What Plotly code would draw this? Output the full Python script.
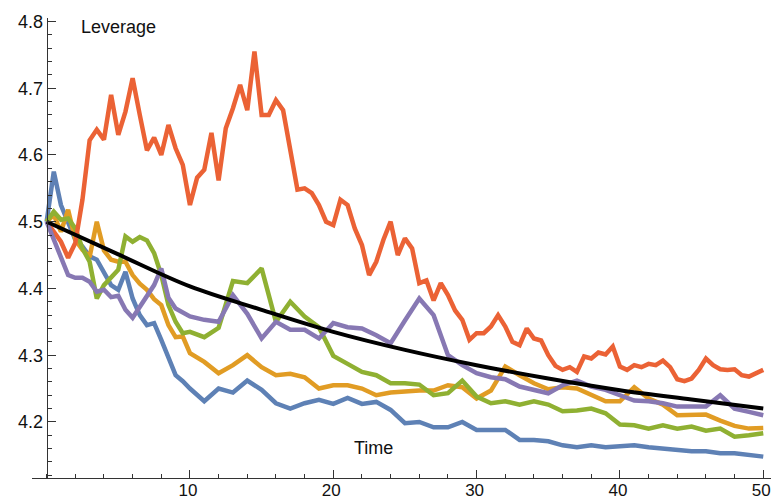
import plotly.graph_objects as go

# Time grids
TIME_FINE = [i * 0.5 for i in range(101)]
TIME_MAIN = [i * 0.5 for i in range(21)] + list(range(11, 51))

BLUE = [4.50, 4.575, 4.525, 4.50, 4.473, 4.463, 4.448, 4.443, 4.425, 4.405, 4.398,
        4.425, 4.385, 4.360, 4.345, 4.348, 4.323, 4.295, 4.270, 4.261, 4.250,
        4.231, 4.250, 4.244, 4.262, 4.248, 4.228, 4.220, 4.228, 4.233, 4.227,
        4.236, 4.227, 4.230, 4.218, 4.198, 4.200, 4.192, 4.192, 4.200, 4.188,
        4.188, 4.188, 4.173, 4.173, 4.171, 4.165, 4.162, 4.165, 4.162, 4.164,
        4.165, 4.162, 4.160, 4.157, 4.156, 4.156, 4.153, 4.153, 4.150, 4.148]

GOLD = [4.50, 4.51, 4.485, 4.518, 4.473, 4.458, 4.447, 4.50, 4.457, 4.443, 4.44,
        4.44, 4.42, 4.407, 4.398, 4.384, 4.375, 4.345, 4.327, 4.328, 4.303,
        4.290, 4.273, 4.285, 4.300, 4.282, 4.270, 4.272, 4.267, 4.250, 4.255,
        4.255, 4.250, 4.240, 4.244, 4.246, 4.247, 4.247, 4.255, 4.252, 4.235,
        4.247, 4.283, 4.270, 4.258, 4.249, 4.252, 4.250, 4.240, 4.231, 4.231,
        4.252, 4.235, 4.226, 4.210, 4.211, 4.211, 4.202, 4.194, 4.190, 4.191]

GREEN = [4.50, 4.515, 4.503, 4.505, 4.49, 4.46, 4.44, 4.385, 4.405, 4.417, 4.428,
         4.478, 4.47, 4.477, 4.472, 4.453, 4.42, 4.375, 4.35, 4.333, 4.335,
         4.327, 4.341, 4.411, 4.408, 4.430, 4.350, 4.380, 4.358, 4.342, 4.299,
         4.287, 4.275, 4.270, 4.258, 4.258, 4.256, 4.240, 4.243, 4.262, 4.238,
         4.228, 4.231, 4.226, 4.231, 4.226, 4.216, 4.217, 4.220, 4.213, 4.196,
         4.195, 4.190, 4.195, 4.190, 4.193, 4.187, 4.190, 4.178, 4.180, 4.183]

RED = [4.500, 4.486, 4.470, 4.446, 4.468, 4.533, 4.622, 4.638, 4.623, 4.690,
       4.630, 4.665, 4.715, 4.660, 4.607, 4.626, 4.600, 4.645, 4.610, 4.585,
       4.525, 4.566, 4.578, 4.633, 4.562, 4.640, 4.670, 4.705, 4.667, 4.755,
       4.660, 4.660, 4.682, 4.667, 4.610, 4.548, 4.550, 4.543, 4.525, 4.500,
       4.495, 4.533, 4.525, 4.490, 4.465, 4.420, 4.440, 4.473, 4.500, 4.450,
       4.475, 4.460, 4.408, 4.412, 4.382, 4.408, 4.390, 4.367, 4.353, 4.323,
       4.333, 4.333, 4.343, 4.360, 4.343, 4.320, 4.315, 4.340, 4.325, 4.322,
       4.300, 4.284, 4.278, 4.282, 4.275, 4.298, 4.295, 4.304, 4.301, 4.313,
       4.283, 4.278, 4.285, 4.282, 4.287, 4.285, 4.292, 4.282, 4.264, 4.261,
       4.265, 4.278, 4.295, 4.285, 4.279, 4.278, 4.279, 4.270, 4.268, 4.273,
       4.278]

PURPLE = [4.50, 4.473, 4.449, 4.42, 4.416, 4.416, 4.41, 4.395, 4.398, 4.387, 4.389,
          4.368, 4.356, 4.372, 4.39, 4.405, 4.43, 4.386, 4.37, 4.363, 4.358,
          4.353, 4.350, 4.390, 4.362, 4.325, 4.350, 4.338, 4.338, 4.325, 4.348,
          4.342, 4.340, 4.330, 4.318, 4.352, 4.385, 4.360, 4.300, 4.285, 4.273,
          4.267, 4.264, 4.253, 4.248, 4.243, 4.255, 4.262, 4.253, 4.248, 4.240,
          4.232, 4.231, 4.228, 4.223, 4.223, 4.223, 4.240, 4.220, 4.215, 4.210]

MEAN_T = [0, 5, 10, 15, 20, 25, 30, 35, 40, 45, 50]
MEAN_V = [4.500, 4.451, 4.403, 4.368, 4.335, 4.308, 4.285, 4.265, 4.2475, 4.2335, 4.220]

X_TICKS = [10, 20, 30, 40, 50]
Y_TICKS = [4.2, 4.3, 4.4, 4.5, 4.6, 4.7, 4.8]
Y_LABELS = ["4.2", "4.3", "4.4", "4.5", "4.6", "4.7", "4.8"]

FONT = "Liberation Sans, Arial, sans-serif"
AX = "#333333"

fig = go.Figure()
series = [
    (TIME_MAIN, BLUE, "#5E81B5"),
    (TIME_MAIN, GOLD, "#E19C24"),
    (TIME_MAIN, GREEN, "#8FB032"),
    (TIME_FINE, RED, "#EB6235"),
    (TIME_MAIN, PURPLE, "#8778B3"),
]
for t, v, c in series:
    fig.add_trace(go.Scatter(x=t, y=v, mode="lines", line=dict(color=c, width=4.5),
                             hoverinfo="skip"))
fig.add_trace(go.Scatter(x=MEAN_T, y=MEAN_V, mode="lines",
                         line=dict(color="black", width=4, shape="spline"),
                         hoverinfo="skip"))

xr = [-1.02, 50.54]
fig.update_layout(
    width=771, height=500,
    margin=dict(l=32, r=0, t=18, b=22, autoexpand=False),
    plot_bgcolor="white", paper_bgcolor="white",
    showlegend=False,
    font=dict(family=FONT, size=18, color="#111111"),
    xaxis=dict(range=xr, showgrid=False, zeroline=False, showline=True,
               automargin=False, ticklabeloverflow="allow",
               linecolor=AX, linewidth=1, ticks="inside", ticklen=8,
               tickcolor=AX, tickwidth=1, tickmode="array", tickvals=X_TICKS,
               ticktext=[str(v) for v in X_TICKS], ticklabelstandoff=-3,
               ticklabelshift=-2,
               minor=dict(ticks="inside", ticklen=4, tickmode="linear",
                          tick0=0, dtick=2, tickcolor=AX, showgrid=False),
               tickfont=dict(family=FONT, size=17, color="#111111")),
    yaxis=dict(range=[4.116, 4.8052], showgrid=False, zeroline=False,
               showline=True, linecolor=AX, linewidth=1, automargin=False,
               anchor="free", position=(0 - xr[0]) / (xr[1] - xr[0]),
               ticks="inside", ticklen=8, tickcolor=AX, tickwidth=1,
               tickmode="array", tickvals=Y_TICKS, ticktext=Y_LABELS,
               minor=dict(ticks="inside", ticklen=4, tickmode="linear",
                          tick0=4.0, dtick=0.02, tickcolor=AX, showgrid=False),
               tickfont=dict(family=FONT, size=18, color="#111111")),
    annotations=[
        dict(x=2.25, y=4.792, xref="x", yref="y", text="Leverage",
             showarrow=False, xanchor="left", yanchor="middle",
             font=dict(family=FONT, size=18, color="#111111")),
        dict(x=21.28, y=4.1613, xref="x", yref="y", text="Time",
             showarrow=False, xanchor="left", yanchor="middle",
             font=dict(family=FONT, size=18, color="#111111")),
    ],
)

fig.write_html(
    "out.html",
    config={"displayModeBar": False},
    post_script="document.body.style.margin='0';document.body.style.overflow='hidden';",
)
